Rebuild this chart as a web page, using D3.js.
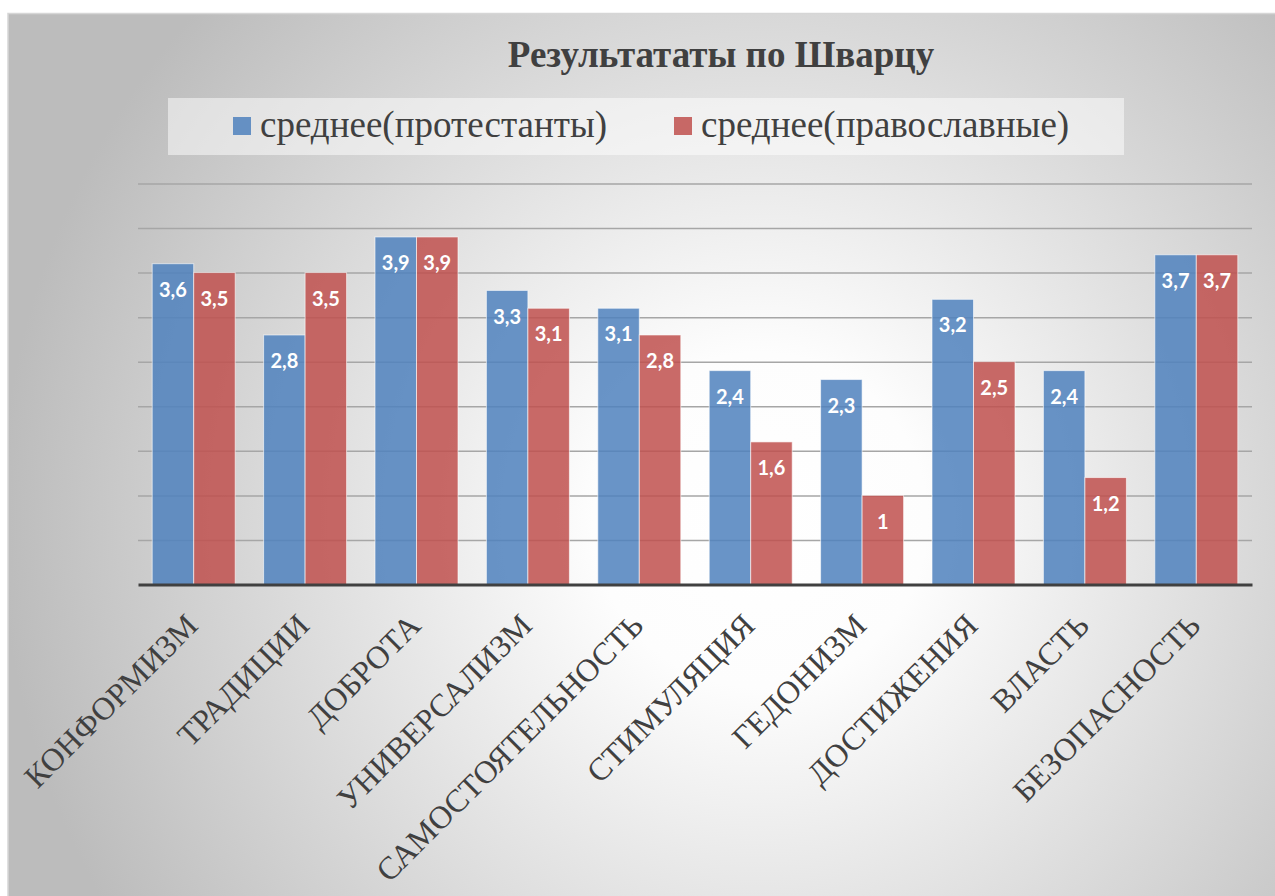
<!DOCTYPE html>
<html>
<head>
<meta charset="utf-8">
<script src="https://cdn.jsdelivr.net/npm/d3@7"></script>
<style>
  body { margin: 0; background: #fff; }
  svg { display: block; }
</style>
</head>
<body>
<div class="chart"></div>
<script>
var categories = ["КОНФОРМИЗМ", "ТРАДИЦИИ", "ДОБРОТА", "УНИВЕРСАЛИЗМ", "САМОСТОЯТЕЛЬНОСТЬ",
  "СТИМУЛЯЦИЯ", "ГЕДОНИЗМ", "ДОСТИЖЕНИЯ", "ВЛАСТЬ", "БЕЗОПАСНОСТЬ"];
var seriesNames = ["среднее(протестанты)", "среднее(православные)"];
var protestants = [3.6, 2.8, 3.9, 3.3, 3.1, 2.4, 2.3, 3.2, 2.4, 3.7];
var orthodox = [3.5, 3.5, 3.9, 3.1, 2.8, 1.6, 1, 2.5, 1.2, 3.7];
var gridTicks = [0.5, 1, 1.5, 2, 2.5, 3, 3.5, 4, 4.5];
var colors = ["#4f81bd", "#c0504d"];

var svgWidth = 1275;
var svgHeight = 896;
var serif = "Liberation Serif";

var margin = { top: 183.5, right: 23, bottom: 311.5, left: 138 };
var width = svgWidth - margin.left - margin.right;
var height = svgHeight - margin.top - margin.bottom;

var svg = d3.select(".chart")
  .append("svg")
  .attr("width", svgWidth)
  .attr("height", svgHeight);

// background with radial gradient
var defs = svg.append("defs");
var grad = defs.append("radialGradient")
  .attr("id", "bg")
  .attr("gradientUnits", "userSpaceOnUse")
  .attr("cx", 760).attr("cy", 520).attr("r", 760);
grad.append("stop").attr("offset", "0").attr("stop-color", "#ffffff");
grad.append("stop").attr("offset", "0.22").attr("stop-color", "#fdfdfd");
grad.append("stop").attr("offset", "1").attr("stop-color", "#bcbcbc");

svg.append("rect")
  .attr("x", 8).attr("y", 13.5)
  .attr("width", svgWidth).attr("height", svgHeight)
  .attr("fill", "url(#bg)")
  .attr("stroke", "#d6d6d6")
  .attr("stroke-width", 1.5);

// title
svg.append("text")
  .attr("x", 721).attr("y", 67)
  .attr("text-anchor", "middle")
  .attr("font-family", serif)
  .attr("font-weight", "bold")
  .attr("font-size", 37)
  .attr("fill", "#404040")
  .text("Результататы по Шварцу");

// legend
var legendX = [233, 674];
svg.append("rect")
  .attr("x", 168).attr("y", 98)
  .attr("width", 956).attr("height", 57)
  .attr("fill", "#ffffff")
  .attr("opacity", 0.5);

var legend = svg.selectAll(".legend")
  .data(seriesNames)
  .enter()
  .append("g")
  .attr("class", "legend")
  .attr("transform", (d, i) => `translate(${legendX[i]}, 117)`);

legend.append("rect")
  .attr("width", 18).attr("height", 18)
  .attr("fill", (d, i) => colors[i])
  .attr("opacity", 0.85);

legend.append("text")
  .attr("x", 27).attr("y", 20)
  .attr("font-family", serif)
  .attr("font-size", 37)
  .attr("fill", "#404040")
  .text(d => d);

var chartGroup = svg.append("g")
  .attr("transform", `translate(${margin.left}, ${margin.top})`);

// scales
var x0 = d3.scaleBand()
  .domain(categories)
  .range([0, width])
  .paddingInner(0.255)
  .paddingOuter(0.1275);

var x1 = d3.scaleBand()
  .domain([0, 1])
  .range([0, x0.bandwidth()]);

var yScale = d3.scaleLinear()
  .domain([0, 4.5])
  .range([height, 0]);

// gridlines
chartGroup.append("g")
  .attr("class", "grid")
  .call(d3.axisLeft(yScale).tickValues(gridTicks).tickSize(-width).tickFormat(""))
  .call(g => g.select(".domain").remove())
  .call(g => g.selectAll(".tick line")
    .attr("stroke", "#a6a6a6")
    .attr("stroke-width", 1.5));

// bars
var data = categories.map((c, i) => ({ cat: c, values: [protestants[i], orthodox[i]] }));

var groups = chartGroup.selectAll(".cat")
  .data(data)
  .enter()
  .append("g")
  .attr("class", "cat")
  .attr("transform", d => `translate(${x0(d.cat)}, 0)`);

var bars = groups.selectAll("g.bar")
  .data(d => d.values.map((v, i) => ({ s: i, v: v })))
  .enter()
  .append("g")
  .attr("class", "bar");

bars.append("rect")
  .attr("x", d => x1(d.s))
  .attr("y", d => yScale(d.v))
  .attr("width", x1.bandwidth())
  .attr("height", d => height - yScale(d.v))
  .attr("fill", d => colors[d.s])
  .attr("fill-opacity", 0.85)
  .attr("stroke", "#ffffff")
  .attr("stroke-opacity", 0.6)
  .attr("stroke-width", 1);

bars.append("text")
  .attr("x", d => x1(d.s) + x1.bandwidth() / 2)
  .attr("y", d => yScale(d.v) + 28)
  .attr("text-anchor", "middle")
  .attr("dominant-baseline", "middle")
  .attr("font-family", "Lato")
  .attr("font-weight", "bold")
  .attr("font-size", 20)
  .attr("fill", "#ffffff")
  .text(d => String(d.v).replace(".", ","));

// x axis line
chartGroup.append("g")
  .attr("transform", `translate(0, ${height})`)
  .call(d3.axisBottom(x0).tickSize(0).tickFormat(""))
  .call(g => g.select(".domain")
    .attr("stroke", "#404040")
    .attr("stroke-width", 3));

// category labels
chartGroup.selectAll(".catLabel")
  .data(categories)
  .enter()
  .append("text")
  .attr("class", "catLabel")
  .attr("text-anchor", "end")
  .attr("transform", d => `translate(${x0(d) + x0.bandwidth() / 2 + 6}, ${height + 43}) rotate(-45)`)
  .attr("font-family", serif)
  .attr("font-size", 32)
  .attr("fill", "#404040")
  .text(d => d);
</script>
</body>
</html>
